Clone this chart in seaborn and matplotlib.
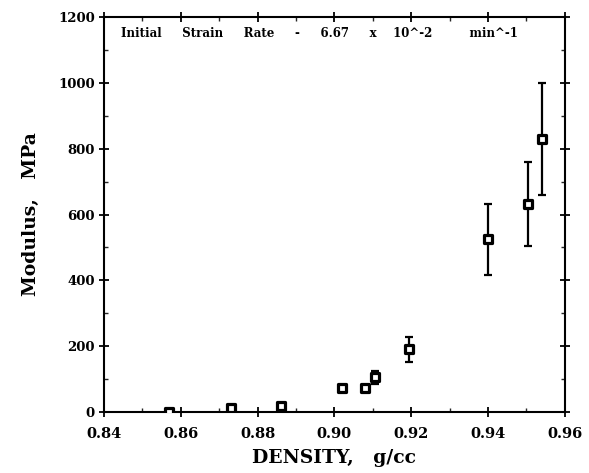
import numpy as np
import pandas as pd
import matplotlib
matplotlib.use("Agg")
import matplotlib.pyplot as plt
import seaborn as sns
from matplotlib.ticker import MultipleLocator

density = [0.857, 0.873, 0.886, 0.902, 0.908, 0.9105, 0.9195, 0.940, 0.9505, 0.954]
modulus = [0, 11, 19, 73, 73, 106, 191, 525, 632, 830]
modulus_err = [0, 0, 0, 0, 0, 20, 38, 108, 127, 170]

df = pd.DataFrame({"density": density, "modulus": modulus, "err": modulus_err})

sns.set_style("ticks")
plt.rcParams["font.family"] = ["DejaVu Serif"]
plt.rcParams["font.weight"] = "bold"
plt.rcParams["text.color"] = "black"
plt.rcParams["axes.labelcolor"] = "black"

fig = plt.figure(figsize=(5.89, 4.73), dpi=100)
ax = fig.add_axes([0.1766, 0.129, 0.7824, 0.835])

eb = df[df["err"] > 0]
ax.errorbar(eb["density"], eb["modulus"], yerr=eb["err"], fmt="none",
            ecolor="black", elinewidth=1.6, capsize=3, capthick=1.6, zorder=2)
sns.scatterplot(data=df, x="density", y="modulus", marker="s", s=26,
                color="white", edgecolor="black", linewidth=2.3, ax=ax, zorder=3)

ax.set_xlim(0.84, 0.96)
ax.set_ylim(0, 1200)
ax.xaxis.set_major_locator(MultipleLocator(0.02))
ax.xaxis.set_minor_locator(MultipleLocator(0.01))
ax.yaxis.set_major_locator(MultipleLocator(200))
ax.yaxis.set_minor_locator(MultipleLocator(100))
ax.set_xticklabels([f"{v:.2f}" for v in ax.get_xticks()])

for s in ax.spines.values():
    s.set_linewidth(1.5)
    s.set_color("black")
ax.tick_params(which="major", direction="inout", length=7, width=1.3,
               colors="black", pad=3)
ax.tick_params(axis="x", which="major", labelsize=10.5, pad=7)
ax.tick_params(axis="y", which="major", labelsize=9.5)
ax.tick_params(which="minor", direction="in", length=3, width=1.0)
ax.tick_params(which="both", top=True, right=True, labeltop=False, labelright=False)

ax.set_xlabel("DENSITY,   g/cc", fontsize=13.5, fontweight="bold", labelpad=6)
ax.set_ylabel("Modulus,   MPa", fontsize=13.5, fontweight="bold", labelpad=13)

ax.text(0.8444, 1151,
        "Initial     Strain     Rate     -     6.67     x    10^-2         min^-1",
        fontsize=8.5, fontweight="bold", va="center", ha="left")

fig.savefig("out.png", dpi=100)
